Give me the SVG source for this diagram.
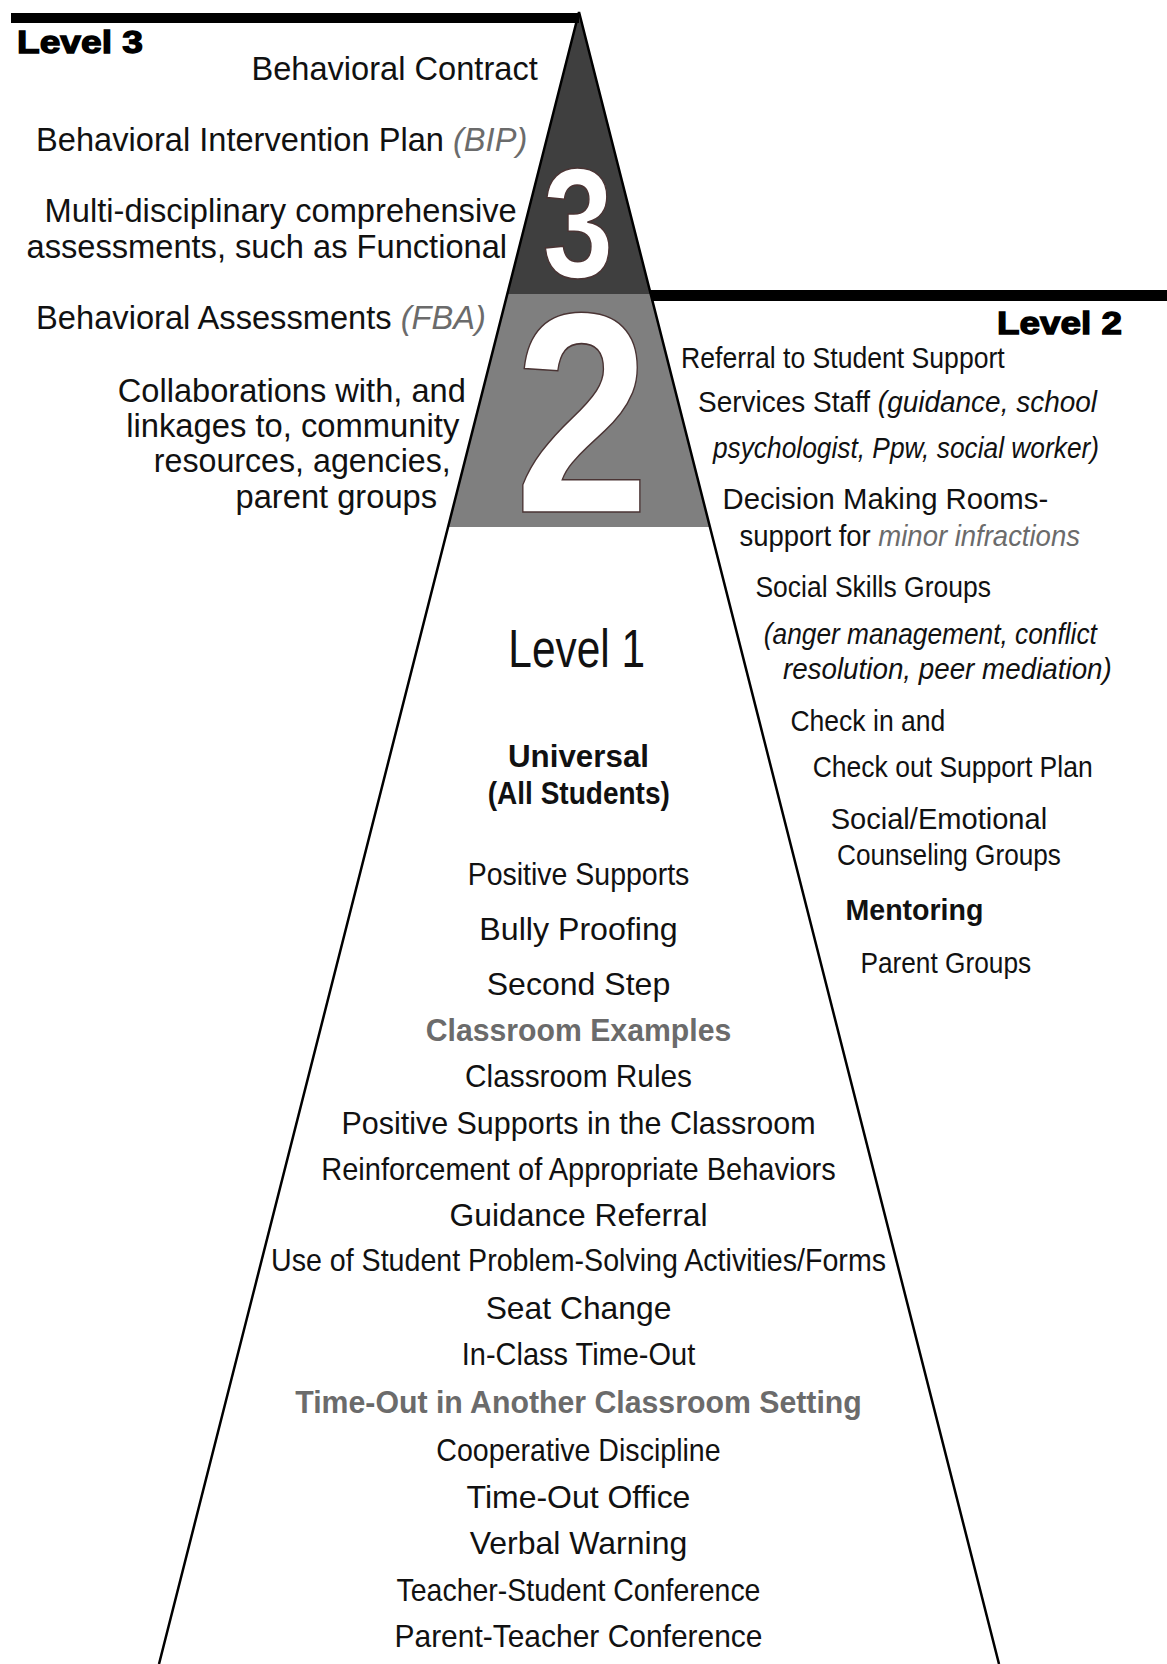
<svg xmlns="http://www.w3.org/2000/svg" width="1167" height="1664" viewBox="0 0 1167 1664">
<style>
text{fill:#111}
.l{font-family:"Liberation Sans",Arial,sans-serif;font-size:32.5px}
.n{font-family:"Liberation Sans Narrow","Liberation Sans",Arial,sans-serif}
.c{font-size:32px;text-anchor:middle}
.r{font-size:30px}
.i{font-style:italic}
.g{fill:#6b6b6b}
.b{font-weight:bold}
.lv{font-family:"Liberation Sans",Arial,sans-serif;font-weight:bold;font-size:31.5px;stroke:#000;stroke-width:1.3;fill:#000}
.num{font-family:"Liberation Sans",Arial,sans-serif;font-weight:bold;fill:#fff;stroke:#4a3434;stroke-width:1.6;text-anchor:middle}
.edge{fill:none;stroke:#000;stroke-width:2.5;stroke-linejoin:miter}
</style>
<rect width="1167" height="1664" fill="#fff"/>
<g id="pyramid">
  <polygon id="tier1" points="448,527 710,527 999,1664 159,1664" fill="#fff"/>
  <polygon id="tier2" points="507,294 651,294 710,527 448,527" fill="#7f7f7f"/>
  <polygon id="tier3" points="579,12 651,294 507,294" fill="#3f3f3f"/>
  <polyline class="edge" points="159,1664 579,12 999,1664"/>
  <rect x="11" y="13" width="568" height="10" fill="#000"/>
  <rect x="651" y="290" width="516" height="11" fill="#000"/>
  <text class="num" transform="translate(578,277) scale(0.82,1)" font-size="156">3</text>
  <text class="num" transform="translate(582,512) scale(0.85,1)" font-size="286">2</text>
</g>
<g id="level3-labels">
  <text class="lv" x="17" y="52.7" textLength="126" lengthAdjust="spacingAndGlyphs">Level 3</text>
  <text class="l" x="251.4" y="80" textLength="286.4" lengthAdjust="spacingAndGlyphs">Behavioral Contract</text>
  <text class="l" x="36.1" y="151" textLength="491.2" lengthAdjust="spacingAndGlyphs">Behavioral Intervention Plan <tspan class="i g">(BIP)</tspan></text>
  <text class="l" x="44.6" y="222" textLength="472.1" lengthAdjust="spacingAndGlyphs">Multi-disciplinary comprehensive</text>
  <text class="l" x="26.5" y="258" textLength="480.6" lengthAdjust="spacingAndGlyphs">assessments, such as Functional</text>
</g>
<g id="level2-left">
  <text class="l" x="36.1" y="328.5" textLength="449.8" lengthAdjust="spacingAndGlyphs">Behavioral Assessments <tspan class="i g">(FBA)</tspan></text>
  <text class="l" x="117.8" y="402" textLength="348" lengthAdjust="spacingAndGlyphs">Collaborations with, and</text>
  <text class="l" x="126.2" y="437" textLength="333.1" lengthAdjust="spacingAndGlyphs">linkages to, community</text>
  <text class="l" x="153.8" y="472" textLength="297" lengthAdjust="spacingAndGlyphs">resources, agencies,</text>
  <text class="l" x="235.5" y="508" textLength="201.6" lengthAdjust="spacingAndGlyphs">parent groups</text>
</g>
<g id="level2-right">
  <text class="lv" x="997" y="334" textLength="125" lengthAdjust="spacingAndGlyphs">Level 2</text>
  <text class="n r" x="681.1" y="368" textLength="323.6" lengthAdjust="spacingAndGlyphs">Referral to Student Support</text>
  <text class="n r" x="698.1" y="412" textLength="398.9" lengthAdjust="spacingAndGlyphs">Services Staff <tspan class="i">(guidance, school</tspan></text>
  <text class="n r i" x="712.9" y="458" textLength="386.2" lengthAdjust="spacingAndGlyphs">psychologist, Ppw, social worker)</text>
  <text class="n r" x="722.5" y="509" textLength="325.7" lengthAdjust="spacingAndGlyphs">Decision Making Rooms-</text>
  <text class="n r" x="739.4" y="546" textLength="340.5" lengthAdjust="spacingAndGlyphs">support for <tspan class="i g">minor infractions</tspan></text>
  <text class="n r" x="755.4" y="597" textLength="235.5" lengthAdjust="spacingAndGlyphs">Social Skills Groups</text>
  <text class="n r i" x="763.8" y="644" textLength="333.1" lengthAdjust="spacingAndGlyphs">(anger management, conflict</text>
  <text class="n r i" x="782.9" y="679" textLength="328.9" lengthAdjust="spacingAndGlyphs">resolution, peer mediation)</text>
  <text class="n r" x="790.4" y="731" textLength="154.9" lengthAdjust="spacingAndGlyphs">Check in and</text>
  <text class="n r" x="812.7" y="776.5" textLength="280" lengthAdjust="spacingAndGlyphs">Check out Support Plan</text>
  <text class="n r" x="830.7" y="828.5" textLength="216.4" lengthAdjust="spacingAndGlyphs">Social/Emotional</text>
  <text class="n r" x="837" y="864.5" textLength="223.9" lengthAdjust="spacingAndGlyphs">Counseling Groups</text>
  <text class="n r b" x="845.5" y="919.5" textLength="137.9" lengthAdjust="spacingAndGlyphs">Mentoring</text>
  <text class="n r" x="860.4" y="972.5" textLength="170.8" lengthAdjust="spacingAndGlyphs">Parent Groups</text>
</g>
<g id="level1">
  <text class="n" x="576.7" y="666.7" font-size="53" text-anchor="middle" textLength="136.7" lengthAdjust="spacingAndGlyphs">Level 1</text>
  <text class="n c b" x="578.5" y="766.7" textLength="141" lengthAdjust="spacingAndGlyphs">Universal</text>
  <text class="n c b" x="578.8" y="804" textLength="182" lengthAdjust="spacingAndGlyphs">(All Students)</text>
  <text class="n c" x="578.5" y="884.8" textLength="221.7" lengthAdjust="spacingAndGlyphs">Positive Supports</text>
  <text class="n c" x="578.5" y="940" textLength="198.4" lengthAdjust="spacingAndGlyphs">Bully Proofing</text>
  <text class="n c" x="578.5" y="995" textLength="183.5" lengthAdjust="spacingAndGlyphs">Second Step</text>
  <text class="n c b g" x="578.5" y="1040.7" textLength="305.5" lengthAdjust="spacingAndGlyphs">Classroom Examples</text>
  <text class="n c" x="578.5" y="1087.4" textLength="227" lengthAdjust="spacingAndGlyphs">Classroom Rules</text>
  <text class="n c" x="578.5" y="1134" textLength="474.2" lengthAdjust="spacingAndGlyphs">Positive Supports in the Classroom</text>
  <text class="n c" x="578.5" y="1180" textLength="514.5" lengthAdjust="spacingAndGlyphs">Reinforcement of Appropriate Behaviors</text>
  <text class="n c" x="578.5" y="1225.5" textLength="258" lengthAdjust="spacingAndGlyphs">Guidance Referral</text>
  <text class="n c" x="578.5" y="1271" textLength="615" lengthAdjust="spacingAndGlyphs">Use of Student Problem-Solving Activities/Forms</text>
  <text class="n c" x="578.5" y="1318.7" textLength="185.7" lengthAdjust="spacingAndGlyphs">Seat Change</text>
  <text class="n c" x="578.5" y="1365.4" textLength="233.4" lengthAdjust="spacingAndGlyphs">In-Class Time-Out</text>
  <text class="n c b g" x="578.5" y="1413" textLength="566.5" lengthAdjust="spacingAndGlyphs">Time-Out in Another Classroom Setting</text>
  <text class="n c" x="578.5" y="1460.9" textLength="284.3" lengthAdjust="spacingAndGlyphs">Cooperative Discipline</text>
  <text class="n c" x="578.5" y="1507.5" textLength="223.8" lengthAdjust="spacingAndGlyphs">Time-Out Office</text>
  <text class="n c" x="578.5" y="1554" textLength="217.5" lengthAdjust="spacingAndGlyphs">Verbal Warning</text>
  <text class="n c" x="578.5" y="1601" textLength="363.9" lengthAdjust="spacingAndGlyphs">Teacher-Student Conference</text>
  <text class="n c" x="578.5" y="1646.5" textLength="368" lengthAdjust="spacingAndGlyphs">Parent-Teacher Conference</text>
</g>
</svg>
